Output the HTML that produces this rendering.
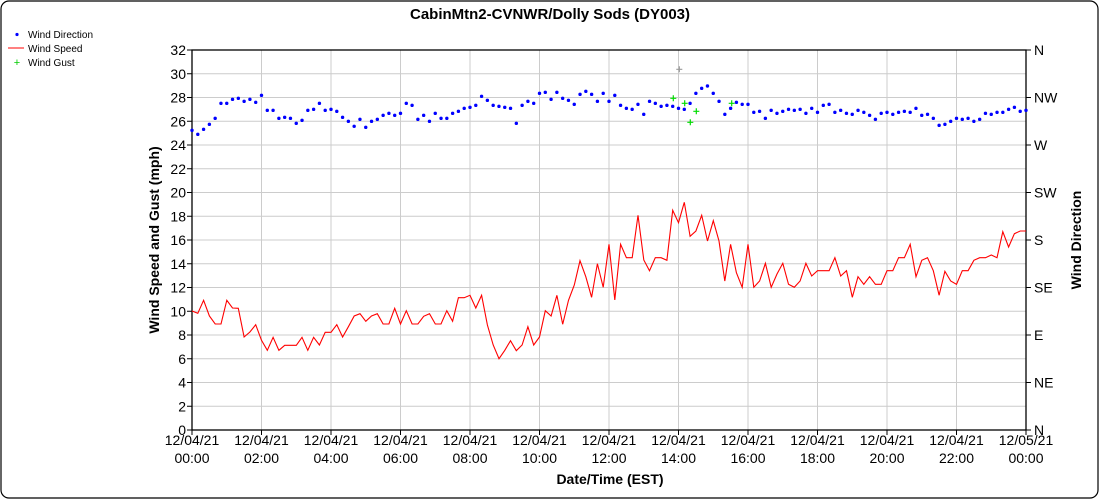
<!DOCTYPE html>
<html><head><meta charset="utf-8"><style>
body{margin:0;background:#fff;}
svg{display:block;font-family:"Liberation Sans",Arial,sans-serif;}
</style></head><body>
<svg id="s" width="1100" height="500" xmlns="http://www.w3.org/2000/svg">
<rect x="1" y="1" width="1097" height="497" rx="8" fill="#fff" stroke="#000" stroke-width="1.2"/>
<text x="550" y="19" text-anchor="middle" font-size="15" font-weight="bold">CabinMtn2-CVNWR/Dolly Sods (DY003)</text>
<circle cx="17" cy="34.5" r="1.6" fill="#00f"/>
<text x="28" y="38" font-size="10">Wind Direction</text>
<line x1="8" y1="48" x2="24" y2="48" stroke="#f00"/>
<text x="28" y="52" font-size="10">Wind Speed</text>
<text x="17" y="66" font-size="11" fill="#0c0" text-anchor="middle">+</text>
<text x="28" y="66" font-size="10">Wind Gust</text>
<g id="grid"></g>
<g id="data"></g>
<text x="610" y="484" text-anchor="middle" font-size="14" font-weight="bold">Date/Time (EST)</text>
<text transform="translate(159,240) rotate(-90)" text-anchor="middle" font-size="14" font-weight="bold">Wind Speed and Gust (mph)</text>
<text transform="translate(1081,240) rotate(-90)" text-anchor="middle" font-size="14" font-weight="bold">Wind Direction</text>
</svg>
<script>
var NS="http://www.w3.org/2000/svg";
function el(p,t,a,txt){var e=document.createElementNS(NS,t);for(var k in a)e.setAttribute(k,a[k]);if(txt!=null)e.textContent=txt;p.appendChild(e);return e;}
var g=document.getElementById('grid'),d=document.getElementById('data');
var X0=192,X1=1026,Y0=430,Y1=50,py=(Y0-Y1)/32;
for(var v=0;v<=32;v+=2){var y=Y0-v*py;
 if(v>0&&v<32)el(g,'line',{x1:X0,x2:X1,y1:y,y2:y,stroke:'#ccc'});
 el(g,'line',{x1:X0-5,x2:X0,y1:y,y2:y,stroke:'#000'});
 el(g,'text',{x:X0-6,y:y+5,'text-anchor':'end','font-size':14},v);}
var dirs=['N','NE','E','SE','S','SW','W','NW','N'];
for(var i=0;i<9;i++){var y=Y0-i*4*py;el(g,'line',{x1:X1,x2:X1+5,y1:y,y2:y,stroke:'#000'});
 el(g,'text',{x:X1+8,y:y+5,'font-size':14},dirs[i]);}
var hx=(X1-X0)/24;
for(var h=0;h<=24;h+=2){var x=X0+h*hx;
 if(h>0&&h<24)el(g,'line',{x1:x,x2:x,y1:Y1,y2:Y0,stroke:'#ccc'});
 el(g,'line',{x1:x,x2:x,y1:Y0,y2:Y0+5,stroke:'#000'});
 var lab=h==24?'12/05/21':'12/04/21',hh=h==24?'00:00':((h<10?'0':'')+h+':00');
 el(g,'text',{x:x,y:445,'text-anchor':'middle','font-size':14},lab);
 el(g,'text',{x:x,y:463,'text-anchor':'middle','font-size':14},hh);}
el(g,'rect',{x:X0,y:Y1,width:X1-X0,height:Y0-Y1,fill:'none',stroke:'#000','stroke-width':1.3});
var s1=[363,370,331,378,402,402,331,354,355,441,426,404,451,481,442,481,466,466,466,442,481,442,465,427,427,404,441,410,378,371,394,378,371,402,402,355,402,362,402,402,379,371,402,402,362,394,323,323,316,354,316,405,465,506,481,452,482,465,410,465,441,362,378,316,403,331,285,212,260,322,221,292];
var s2=[163,330,163,203,203,76,210,242,203,203,211,61,98,37,139,123,76,153,92,153,273,163,248,292,163,292,273,220,292,252,220,283,292,273,220,258,242,242,242,203,258,242,322,260,283,260,283,283,242,242,203,203,163,260,211,203,242,316,244,273,283,242,242,211,203,203,195,203,125,171,131,123,123];
var d1=[211,223,208,193,175,130,130,118,115,124,118,127,106,151,151,175,172,175,190,181,151,148,130,151,148,154,172,184,199,178,202,184,178,166,160,166,160,130,136,178,166,184,160,175,175,160,154,145,142,136,109,121,136,139,142,145,190,136,124,130,100,97,118,97,115,121,133,103,94,103,124,100];
var d2=[124,106,136,145,148,133,163,124,130,139,136,139,145,148,130,100,85,78,100,124,163,145,127,133,133,157,154,175,151,160,154,148,151,148,160,145,157,136,133,157,151,160,163,151,157,166,178,160,157,163,157,154,157,145,166,163,175,196,193,184,175,178,175,184,178,160,163,157,157,148,142,154,151];
var step=(X1-X0)/144,pts=[];
for(var i=0;i<145;i++){var x=X0+i*step;var sy=i<72?190+s1[i]/3:190+s2[i-72]/3;pts.push(x.toFixed(1)+','+sy.toFixed(1));
 var dy=i<72?60+d1[i]/3:60+d2[i-72]/3;el(d,'circle',{cx:x,cy:dy,r:1.7,fill:'#00f'});}
el(d,'polyline',{points:pts.join(' '),fill:'none',stroke:'#f00','stroke-width':1.1});
[[679.3,69.3,'#999'],[673.3,98.3],[684.7,103.3],[696.3,111.3],[690.3,122.3],[731.7,103.3]].forEach(function(p){
 var c=p[2]||'#0d0';el(d,'path',{d:'M'+(p[0]-3)+','+p[1]+'h6M'+p[0]+','+(p[1]-3)+'v6',stroke:c,'stroke-width':1.2});});
</script>
</body></html>
